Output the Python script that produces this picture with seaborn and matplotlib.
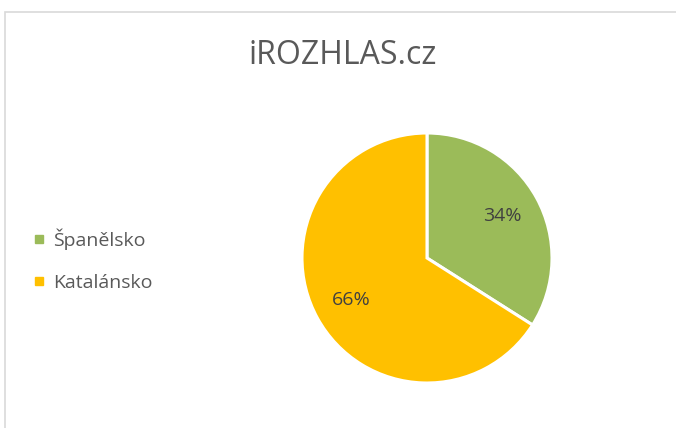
import matplotlib
matplotlib.use("Agg")
import matplotlib.pyplot as plt
from matplotlib.patches import Rectangle
from matplotlib.lines import Line2D
import seaborn as sns

categories = ["Španělsko", "Katalánsko"]
values = [34, 66]
colors = ["#9BBB59", "#FFC000"]
title = "iROZHLAS.cz"

sns.set_theme(style="white")
plt.rcParams["font.family"] = ["Open Sans", "DejaVu Sans"]

fig = plt.figure(figsize=(6.76, 4.28), dpi=100)
fig.patch.set_facecolor("white")

# outer border (chart area frame, runs off the right and bottom edges)
fig.add_artist(Rectangle((4.5 / 676, -0.1), 1.2, (428 - 11.5) / 428 + 0.1,
                         transform=fig.transFigure, fill=False,
                         edgecolor="#D9D9D9", linewidth=1.2))

cx, cy, r = 427, 258, 125
ax = fig.add_axes([(cx - r) / 676, (428 - cy - r) / 428, 2 * r / 676, 2 * r / 428])
wedges, texts, autotexts = ax.pie(
    values, colors=colors, startangle=90, counterclock=False,
    autopct=lambda p: f"{p:.0f}%", pctdistance=0.69,
    wedgeprops=dict(edgecolor="white", linewidth=2.2),
    textprops=dict(color="#404040", fontsize=14),
)
ax.set_aspect("equal")
ax.set_xlim(-1, 1)
ax.set_ylim(-1, 1)
ax.axis("off")

fig.text(343 / 676, 1 - 55 / 428, title, ha="center", va="center",
         fontsize=23, color="#595959")

handles = [Line2D([0], [0], marker="s", linestyle="none", markersize=6,
                  markerfacecolor=c, markeredgecolor=c) for c in colors]
leg = fig.legend(handles, categories, loc="center left",
                 bbox_to_anchor=(22 / 676, 1 - 260 / 428), frameon=False,
                 fontsize=14, labelspacing=1.25, handlelength=0.7,
                 handletextpad=0.4, labelcolor="#595959", borderpad=0)

fig.savefig("out.png", dpi=100, facecolor="white")
